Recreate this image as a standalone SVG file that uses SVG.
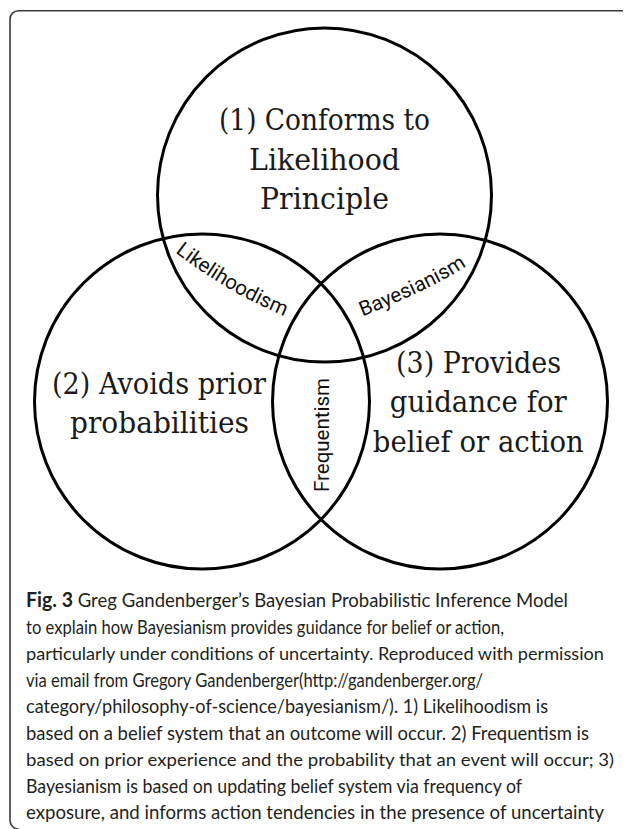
<svg xmlns="http://www.w3.org/2000/svg" width="625" height="829" viewBox="0 0 625 829">
<style>
.venn{fill:none;stroke:#000;stroke-width:3}
.lbl{font-family:"DejaVu Serif","Liberation Serif",serif;font-size:30px;fill:#1a1a1a;text-anchor:middle}
.sub{font-family:Roboto,"Liberation Sans",sans-serif;font-size:20.5px;fill:#111}
.cap{font-family:Lato,"Open Sans",sans-serif;font-size:19px;fill:#231f20}
.capn{font-size:18px}
.frame{fill:none;stroke:#3a3a3a;stroke-width:1.6}
</style>
<defs>
<path id="arcL" d="M173.5,251 Q227.2,293 289,318"/>
<path id="arcB" d="M361.5,317 Q440.9,284.9 471,263"/>
</defs>
<rect width="625" height="829" fill="#fff"/>
<path class="frame" d="M623,10.7 H18.5 A8.5,8.5 0 0 0 10,19.2 V820.5 A8.5,8.5 0 0 0 18.5,829"/>
<g id="circle1">
<circle class="venn" cx="324.5" cy="195" r="167"/>
<text class="lbl" x="324.5" y="130" textLength="211" lengthAdjust="spacingAndGlyphs">(1) Conforms to</text>
<text class="lbl" x="324.5" y="170" textLength="151" lengthAdjust="spacingAndGlyphs">Likelihood</text>
<text class="lbl" x="324.5" y="209" textLength="129" lengthAdjust="spacingAndGlyphs">Principle</text>
</g>
<g id="circle2">
<circle class="venn" cx="202" cy="401.5" r="167.5"/>
<text class="lbl" x="159" y="394" textLength="214" lengthAdjust="spacingAndGlyphs">(2) Avoids prior</text>
<text class="lbl" x="159.5" y="433" textLength="179" lengthAdjust="spacingAndGlyphs">probabilities</text>
</g>
<g id="circle3">
<circle class="venn" cx="440" cy="401.5" r="167.5"/>
<text class="lbl" x="478.5" y="373" textLength="165" lengthAdjust="spacingAndGlyphs">(3) Provides</text>
<text class="lbl" x="478.3" y="412" textLength="177" lengthAdjust="spacingAndGlyphs">guidance for</text>
<text class="lbl" x="478.3" y="452" textLength="211" lengthAdjust="spacingAndGlyphs">belief or action</text>
</g>
<g id="likelihoodism">
<text class="sub"><textPath href="#arcL" startOffset="2">Likelihoodism</textPath></text>
</g>
<g id="bayesianism">
<text class="sub"><textPath href="#arcB" startOffset="1">Bayesianism</textPath></text>
</g>
<g id="frequentism">
<text class="sub" text-anchor="middle" transform="translate(329,435) rotate(-90)">Frequentism</text>
</g>
<g id="caption">
<text class="cap" x="26" y="607" textLength="542" lengthAdjust="spacingAndGlyphs"><tspan font-weight="bold" font-size="20px">Fig. 3</tspan> Greg Gandenberger’s Bayesian Probabilistic Inference Model</text>
<text class="cap" x="26" y="633.5" textLength="478" lengthAdjust="spacingAndGlyphs">to explain how Bayesianism provides guidance for belief or action,</text>
<text class="cap capn" x="26" y="660" textLength="578" lengthAdjust="spacingAndGlyphs">particularly under conditions of uncertainty. Reproduced with permission</text>
<text class="cap" x="26" y="686.5" textLength="457" lengthAdjust="spacingAndGlyphs">via email from Gregory Gandenberger(http://gandenberger.org/</text>
<text class="cap" x="26" y="713" textLength="522" lengthAdjust="spacingAndGlyphs">category/philosophy-of-science/bayesianism/). 1) Likelihoodism is</text>
<text class="cap" x="26" y="739.5" textLength="563" lengthAdjust="spacingAndGlyphs">based on a belief system that an outcome will occur. 2) Frequentism is</text>
<text class="cap capn" x="26" y="766" textLength="588" lengthAdjust="spacingAndGlyphs">based on prior experience and the probability that an event will occur; 3)</text>
<text class="cap" x="26" y="792.5" textLength="496" lengthAdjust="spacingAndGlyphs">Bayesianism is based on updating belief system via frequency of</text>
<text class="cap" x="26" y="819" textLength="578" lengthAdjust="spacingAndGlyphs">exposure, and informs action tendencies in the presence of uncertainty</text>
</g>
</svg>
